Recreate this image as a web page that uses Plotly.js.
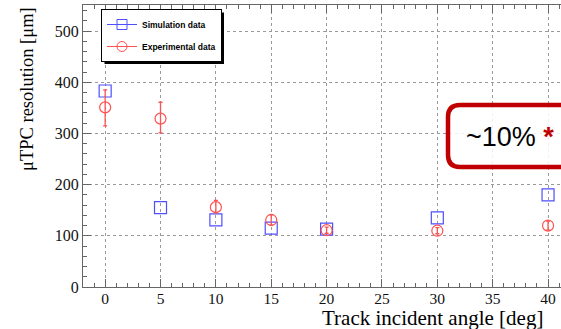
<!DOCTYPE html>
<html>
<head>
<meta charset="utf-8">
<script src="https://cdn.plot.ly/plotly-3.0.1.min.js"></script>
<style>html,body{margin:0;padding:0;overflow:hidden;background:#fff}#chart{width:561px;height:329px}</style>
</head>
<body>
<div id="chart"></div>
<script>
// ---- data ----
const angles = [0, 5, 10, 15, 20, 30, 40];
const simResolution = [383, 155, 131, 115, 113, 135, 180];
const expResolution = [351, 329, 156, 131, 111, 110, 120];
const expErrPlus = [34, 32, 13, 10, 6, 6, 9];
const expErrMinus = [36, 28, 11, 10, 6, 6, 9];
const seriesNames = ['Simulation data', 'Experimental data'];
const xTitle = 'Track incident angle [deg]';
const yTitle = 'μTPC resolution [μm]';
const boxText = '~10% ';

// ---- layout helpers (pixel -> paper) ----
const W = 561, H = 329;
const L = 83, R = 0, T = 5, B = 42;
const pw = W - L - R, ph = H - T - B;
const px = v => (v - L) / pw;
const py = v => (H - B - v) / ph;

const blue = '#4f4fff', red = '#ff5252', dark = '#c00000';

const traces = [
  {x: angles, y: simResolution, type: 'scatter', mode: 'markers', showlegend: false,
   marker: {symbol: 'square-open', size: 12, color: blue, line: {width: 1.2, color: blue}}},
  {x: angles, y: expResolution, type: 'scatter', mode: 'markers', showlegend: false,
   marker: {symbol: 'circle-open', size: 11, color: red, line: {width: 1.2, color: red}},
   error_y: {type: 'data', symmetric: false, array: expErrPlus, arrayminus: expErrMinus,
             color: red, thickness: 1.3, width: 2}},
  {x: [null], y: [null], type: 'scatter', mode: 'lines+markers', name: seriesNames[0], legendgroup: 'a',
   line: {color: blue, width: 1}, marker: {symbol: 'square-open', size: 10, color: blue}},
  {x: [null], y: [null], type: 'scatter', mode: 'lines+markers', name: seriesNames[1], legendgroup: 'b',
   line: {color: red, width: 1}, marker: {symbol: 'circle-open', size: 10, color: red}}
];

const axisCommon = {
  showline: true, linecolor: '#666', linewidth: 1,
  ticks: 'inside', ticklen: 8, tickcolor: '#666', tickwidth: 1,
  showgrid: true, gridcolor: '#9a9a9a', griddash: 'dot', gridwidth: 1,
  zeroline: false,
  tickfont: {family: 'Liberation Serif, serif', size: 16, color: '#111'}
};

const layout = {
  width: W, height: H,
  margin: {l: L, r: R, t: T, b: B, pad: 0},
  paper_bgcolor: '#fff', plot_bgcolor: '#fff',
  showlegend: true,
  xaxis: Object.assign({}, axisCommon, {
    range: [-2, 41.17], tick0: 0, dtick: 5, mirror: 'ticks', ticklabelstandoff: -3,
    tickfont: {family: 'Liberation Serif, serif', size: 15.5, color: '#111'},
    minor: {dtick: 1, ticks: 'inside', ticklen: 4, tickcolor: '#666', showgrid: false}
  }),
  yaxis: Object.assign({}, axisCommon, {
    range: [0, 551], tick0: 0, dtick: 100, mirror: false,
    minor: {dtick: 20, ticks: 'inside', ticklen: 4, tickcolor: '#666', showgrid: false}
  }),
  legend: {
    x: px(101), y: py(9), xanchor: 'left', yanchor: 'top',
    bgcolor: '#fff', bordercolor: '#000', borderwidth: 1,
    font: {family: 'Liberation Sans, Arial, sans-serif', size: 8.5, color: '#000', weight: 'bold'},
    itemwidth: 30, tracegroupgap: 3, traceorder: 'grouped'
  },
  shapes: [
    // legend shadow (resized to the drawn legend below)
    {type: 'rect', xref: 'paper', yref: 'paper', layer: 'above',
     x0: px(104), x1: px(220), y0: py(12), y1: py(65),
     fillcolor: '#000', line: {width: 0}},
    // rounded callout box
    {type: 'path', xref: 'paper', yref: 'paper', layer: 'above',
     path: (function () {
       const x0 = 448, x1 = 720, y0 = 105, y1 = 167, r = 12;
       const P = (a, b) => px(a) + ',' + py(b);
       return 'M' + P(x0 + r, y0) + ' L' + P(x1, y0) + ' L' + P(x1, y1) + ' L' + P(x0 + r, y1) +
              ' Q' + P(x0, y1) + ' ' + P(x0, y1 - r) + ' L' + P(x0, y0 + r) +
              ' Q' + P(x0, y0) + ' ' + P(x0 + r, y0) + ' Z';
     })(),
     fillcolor: 'rgba(255,255,255,0.85)', line: {color: dark, width: 4.5}}
  ],
  annotations: [
    {xref: 'paper', yref: 'paper', x: px(27), y: 1, xanchor: 'center', yanchor: 'top',
     textangle: -90, showarrow: false, text: yTitle,
     font: {family: 'Liberation Serif, serif', size: 18.5, color: '#000'}},
    {xref: 'paper', yref: 'paper', x: px(321), y: py(331), xanchor: 'left', yanchor: 'bottom',
     showarrow: false, text: xTitle, borderpad: 0,
     font: {family: 'Liberation Serif, serif', size: 21, color: '#000'}},
    {xref: 'paper', yref: 'paper', x: px(464), y: py(137), xanchor: 'left', yanchor: 'middle',
     showarrow: false, text: boxText + '<span style="color:' + dark + '"><b>*</b></span>',
     font: {family: 'Liberation Sans, Arial, sans-serif', size: 27, color: '#000'}}
  ]
};

Plotly.newPlot('chart', traces, layout, {staticPlot: true, displayModeBar: false}).then(function (gd) {
  const bg = gd.querySelector('.legend .bg');
  if (!bg) return;
  const r = bg.getBoundingClientRect();
  const c = gd.getBoundingClientRect();
  const left = r.left - c.left, top = r.top - c.top, right = r.right - c.left, bottom = r.bottom - c.top;
  return Plotly.relayout(gd, {
    'shapes[0].x0': px(left + 3), 'shapes[0].x1': px(right + 2.5),
    'shapes[0].y0': py(top + 3), 'shapes[0].y1': py(bottom + 2.5)
  });
});
</script>
</body>
</html>
